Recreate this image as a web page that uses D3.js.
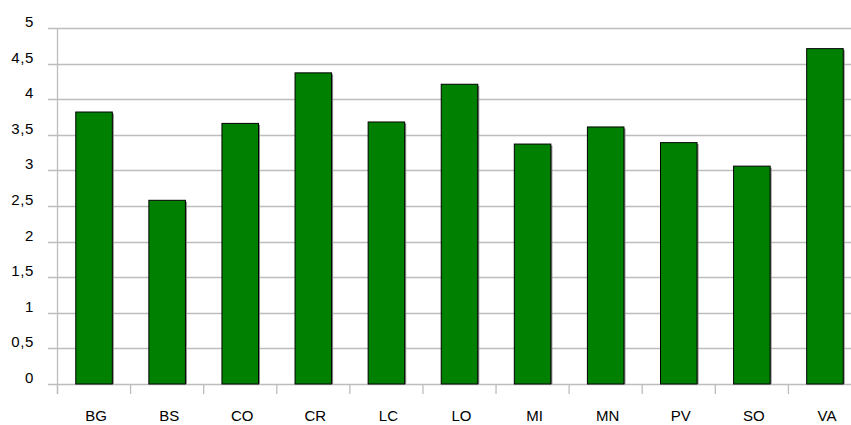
<!DOCTYPE html>
<html><head><meta charset="utf-8">
<script src="https://cdn.jsdelivr.net/npm/d3@7"></script>
<style>body{margin:0;background:#fff;overflow:hidden}svg{display:block}</style>
</head><body>
<script>
const categories = ["BG","BS","CO","CR","LC","LO","MI","MN","PV","SO","VA"];
const values = [3.82,2.58,3.66,4.37,3.68,4.21,3.37,3.61,3.39,3.06,4.71];
const yTicks = [0,0.5,1,1.5,2,2.5,3,3.5,4,4.5,5];

const W = 851, H = 425;
const svg = d3.select("body").append("svg").attr("width", W).attr("height", H);
const x = d3.scaleBand().domain(categories).range([57.5, 861.5]).paddingInner(0.5).paddingOuter(0.25);
const y = d3.scaleLinear().domain([0,5]).range([384, 28]);
const fmt = d => String(d).replace(".", ",");

// gridlines
svg.append("g").selectAll("line").data(yTicks).join("line")
  .attr("x1", 48).attr("x2", W).attr("y1", d => Math.round(y(d))+0.5).attr("y2", d => Math.round(y(d))+0.5)
  .attr("stroke", "#bdbdbd").attr("stroke-width", 1.3);

// y axis line
svg.append("line").attr("x1", 57.5).attr("x2", 57.5).attr("y1", 28).attr("y2", 394)
  .attr("stroke", "#bdbdbd").attr("stroke-width", 1.3);

// x ticks at category boundaries
const step = x.step();
const bounds = d3.range(categories.length + 1).map(i => 57.5 + i * step);
svg.append("g").selectAll("line").data(bounds).join("line")
  .attr("x1", d => d).attr("x2", d => d).attr("y1", 384).attr("y2", 394)
  .attr("stroke", "#bdbdbd").attr("stroke-width", 1.3);

// y labels
svg.append("g").selectAll("text").data(yTicks).join("text")
  .attr("x", 34).attr("y", d => y(d) - 1).attr("text-anchor", "end")
  .attr("font-family", "Liberation Sans, Arial, sans-serif").attr("font-size", 15).attr("fill", "#000")
  .attr("letter-spacing", 0.6)
  .text(fmt);

// bar shadows
svg.append("g").selectAll("rect").data(values).join("rect")
  .attr("x", (d,i) => x(categories[i]) + 1.5).attr("y", d => y(d) + 1.5)
  .attr("width", x.bandwidth()).attr("height", d => y(0) - y(d) - 1.5)
  .attr("fill", "#888");

// bars
svg.append("g").selectAll("rect").data(values).join("rect")
  .attr("x", (d,i) => x(categories[i])).attr("y", d => y(d))
  .attr("width", x.bandwidth()).attr("height", d => y(0) - y(d))
  .attr("fill", "#008000").attr("stroke", "#000").attr("stroke-width", 1);

// x labels
svg.append("g").selectAll("text").data(categories).join("text")
  .attr("x", d => x(d) + x.bandwidth()/2 + 2).attr("y", 421).attr("text-anchor", "middle")
  .attr("font-family", "Liberation Sans, Arial, sans-serif").attr("font-size", 15).attr("fill", "#000")
  .text(d => d);
</script>
</body></html>
